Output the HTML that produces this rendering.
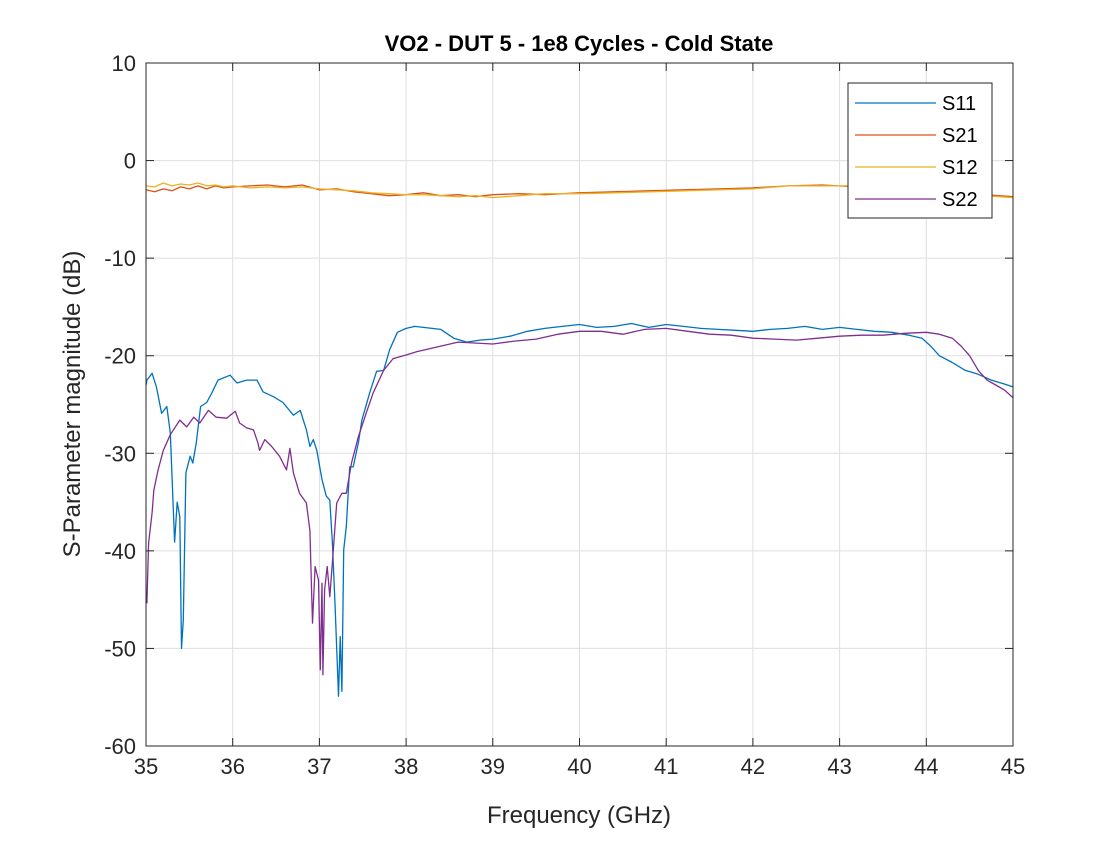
<!DOCTYPE html>
<html><head><meta charset="utf-8"><style>
body{margin:0;background:#fff;}
svg text{font-family:"Liberation Sans",Arial,sans-serif;}
</style></head><body>
<svg id="chart" width="1120" height="840" viewBox="0 0 1120 840">
<rect x="0" y="0" width="1120" height="840" fill="#fff"/>
<rect x="146" y="63" width="867" height="683" fill="#fff"/>
<g id="grid"></g>
<g id="series"></g>
<g id="axes"></g>
<text x="579" y="51" text-anchor="middle" font-size="22" font-weight="bold" fill="#000">VO2 - DUT 5 - 1e8 Cycles - Cold State</text>
<text x="579" y="823" text-anchor="middle" font-size="24" fill="#262626">Frequency (GHz)</text>
<text transform="translate(80,404) rotate(-90)" text-anchor="middle" font-size="24" fill="#262626">S-Parameter magnitude (dB)</text>
<g id="legend"></g>
</svg>
<script>
const xTicks=[35,36,37,38,39,40,41,42,43,44,45];
const yTicks=[10,0,-10,-20,-30,-40,-50,-60];
const seriesNames=["S11","S21","S12","S22"];
const seriesColors=["#0072BD","#D95319","#EDB120","#7E2F8E"];
const s11F=[35,35.01,35.07,35.12,35.18,35.24,35.28,35.33,35.36,35.39,35.41,35.43,35.46,35.51,35.54,35.58,35.63,35.70,35.76,35.83,35.97,36.05,36.16,36.28,36.35,36.47,36.58,36.70,36.78,36.85,36.89,36.93,36.97,37.03,37.08,37.12,37.15,37.18,37.22,37.24,37.26,37.28,37.31,37.35,37.39,37.45,37.49,37.58,37.66,37.74,37.81,37.9,38.0,38.1,38.2,38.3,38.4,38.55,38.7,38.85,39.0,39.2,39.4,39.6,39.8,40.0,40.2,40.4,40.6,40.8,41.0,41.2,41.4,41.6,41.8,42.0,42.2,42.4,42.6,42.8,43.0,43.2,43.4,43.6,43.8,43.95,44.05,44.15,44.3,44.45,44.6,44.75,44.9,45.0];
const s11V=[-23.0,-22.5,-21.8,-23.2,-25.9,-25.2,-27.9,-39.1,-35.0,-36.5,-50.0,-47.1,-32.0,-30.3,-31.0,-28.9,-25.2,-24.8,-23.8,-22.5,-22.0,-22.8,-22.5,-22.5,-23.7,-24.2,-24.8,-26.1,-25.6,-27.6,-29.3,-28.6,-29.7,-32.7,-34.4,-34.8,-39.2,-45.4,-54.9,-48.8,-54.4,-39.9,-37.5,-31.4,-31.4,-28.9,-26.6,-23.8,-21.6,-21.5,-19.4,-17.6,-17.2,-17.0,-17.1,-17.2,-17.3,-18.2,-18.6,-18.4,-18.3,-18.0,-17.5,-17.2,-17.0,-16.8,-17.1,-17.0,-16.7,-17.1,-16.8,-17.0,-17.2,-17.3,-17.4,-17.5,-17.3,-17.2,-17.0,-17.3,-17.1,-17.3,-17.5,-17.6,-17.9,-18.2,-19.0,-20.0,-20.7,-21.5,-21.9,-22.5,-22.9,-23.2];
const s22F=[35.01,35.03,35.07,35.09,35.14,35.2,35.28,35.39,35.47,35.55,35.62,35.72,35.81,35.93,36.03,36.08,36.16,36.24,36.29,36.31,36.37,36.45,36.54,36.62,36.66,36.70,36.77,36.85,36.89,36.92,36.95,36.99,37.01,37.03,37.04,37.06,37.09,37.12,37.15,37.2,37.26,37.31,37.37,37.45,37.55,37.62,37.74,37.85,38.01,38.12,38.6,39.0,39.25,39.5,39.75,40.0,40.25,40.5,40.75,41.0,41.25,41.5,41.75,42.0,42.25,42.5,42.75,43.0,43.25,43.5,43.75,44.0,44.15,44.3,44.4,44.5,44.6,44.7,44.8,44.9,45.0];
const s22V=[-45.4,-39.2,-36.1,-33.8,-31.7,-29.7,-28.1,-26.6,-27.3,-26.3,-26.9,-25.6,-26.3,-26.4,-25.7,-26.9,-27.4,-27.6,-28.9,-29.7,-28.6,-29.3,-30.3,-31.7,-29.5,-32.0,-34.1,-35.1,-37.9,-47.4,-41.6,-43.0,-52.2,-43.3,-52.7,-44.0,-41.6,-44.7,-41.2,-35.1,-34.1,-34.1,-31.0,-28.3,-25.6,-23.8,-21.5,-20.3,-19.9,-19.6,-18.6,-18.8,-18.5,-18.3,-17.8,-17.5,-17.5,-17.8,-17.3,-17.2,-17.5,-17.8,-17.9,-18.2,-18.3,-18.4,-18.2,-18.0,-17.9,-17.9,-17.7,-17.6,-17.8,-18.2,-19.0,-20.0,-21.5,-22.5,-23.0,-23.5,-24.3];
const s21F=[35,35.1,35.2,35.3,35.4,35.5,35.6,35.7,35.8,35.9,36.0,36.2,36.4,36.6,36.8,37.0,37.2,37.4,37.6,37.8,38.0,38.2,38.4,38.6,38.8,39.0,39.3,39.6,40.0,40.4,40.8,41.2,41.6,42.0,42.4,42.8,43.2,43.6,44.0,44.5,45.0];
const s21V=[-3.0,-3.2,-2.9,-3.1,-2.7,-2.9,-2.6,-2.9,-2.6,-2.8,-2.7,-2.6,-2.5,-2.7,-2.5,-3.0,-2.9,-3.2,-3.4,-3.6,-3.5,-3.3,-3.6,-3.5,-3.7,-3.5,-3.4,-3.5,-3.3,-3.2,-3.1,-3.0,-2.9,-2.8,-2.6,-2.5,-2.7,-2.8,-3.0,-3.4,-3.7];
const s12F=[35,35.1,35.2,35.3,35.4,35.5,35.6,35.7,35.8,35.9,36.0,36.2,36.4,36.6,36.8,37.0,37.2,37.4,37.6,37.8,38.0,38.2,38.4,38.6,38.8,39.0,39.3,39.6,40.0,40.4,40.8,41.2,41.6,42.0,42.4,42.8,43.2,43.6,44.0,44.5,45.0];
const s12V=[-2.6,-2.7,-2.3,-2.6,-2.4,-2.5,-2.3,-2.6,-2.5,-2.7,-2.6,-2.8,-2.7,-2.8,-2.7,-2.9,-3.0,-3.1,-3.3,-3.4,-3.5,-3.5,-3.6,-3.7,-3.6,-3.8,-3.6,-3.4,-3.4,-3.3,-3.2,-3.1,-3.0,-2.9,-2.6,-2.6,-2.6,-2.8,-3.1,-3.5,-3.8];
const X0=146,X1=1013,Y0=63,Y1=746;
function xs(f){return X0+(f-35)/10*(X1-X0);}
function ys(v){return Y0+(10-v)/70*(Y1-Y0);}
const NS="http://www.w3.org/2000/svg";
function mk(tag,attrs,parent){const e=document.createElementNS(NS,tag);for(const k in attrs)e.setAttribute(k,attrs[k]);parent.appendChild(e);return e;}
const grid=document.getElementById('grid'),axes=document.getElementById('axes'),ser=document.getElementById('series'),leg=document.getElementById('legend');
xTicks.forEach(t=>{const x=xs(t);
 const g=mk('line',{x1:x,x2:x,y1:Y0,y2:Y1,stroke:'#dfdfdf','stroke-width':1},grid);
 
 
 mk('line',{x1:x,x2:x,y1:Y1,y2:Y1-8,stroke:'#262626','stroke-width':1},axes);
 mk('line',{x1:x,x2:x,y1:Y0,y2:Y0+8,stroke:'#262626','stroke-width':1},axes);
 const tx=mk('text',{x:x,y:Y1+28,'text-anchor':'middle','font-size':22,fill:'#262626'},axes);tx.textContent=t;
 
 
});
yTicks.forEach(t=>{const y=ys(t);
 const g=mk('line',{x1:X0,x2:X1,y1:y,y2:y,stroke:'#dfdfdf','stroke-width':1},grid);
 
 
 mk('line',{x1:X0,x2:X0+8,y1:y,y2:y,stroke:'#262626','stroke-width':1},axes);
 mk('line',{x1:X1,x2:X1-8,y1:y,y2:y,stroke:'#262626','stroke-width':1},axes);
 const tx=mk('text',{x:X0-10,y:y+8,'text-anchor':'end','font-size':22,fill:'#262626'},axes);tx.textContent=t;
 
 
});
const box=mk('rect',{x:X0,y:Y0,width:X1-X0,height:Y1-Y0,fill:'none',stroke:'#262626','stroke-width':1},axes);


const allF=[s11F,s21F,s12F,s22F],allV=[s11V,s21V,s12V,s22V];
[0,1,2,3].forEach(i=>{
 const d=allF[i].map((f,j)=>(j?'L':'M')+xs(f).toFixed(1)+','+ys(allV[i][j]).toFixed(1)).join(' ');
 const p=mk('path',{d:d,fill:'none',stroke:seriesColors[i],'stroke-width':1.3,'stroke-linejoin':'round'},ser);
 
 
});
mk('rect',{x:848,y:83,width:144,height:135,fill:'#fff',stroke:'#262626','stroke-width':1},leg);
seriesNames.forEach((n,i)=>{const y=103+i*32;
 const l=mk('line',{x1:855,x2:936,y1:y,y2:y,stroke:seriesColors[i],'stroke-width':1.2},leg);
 
 
 const t=mk('text',{x:942,y:y+7,'font-size':20,fill:'#000'},leg);t.textContent=n;
 
 
});
</script>
</body></html>
